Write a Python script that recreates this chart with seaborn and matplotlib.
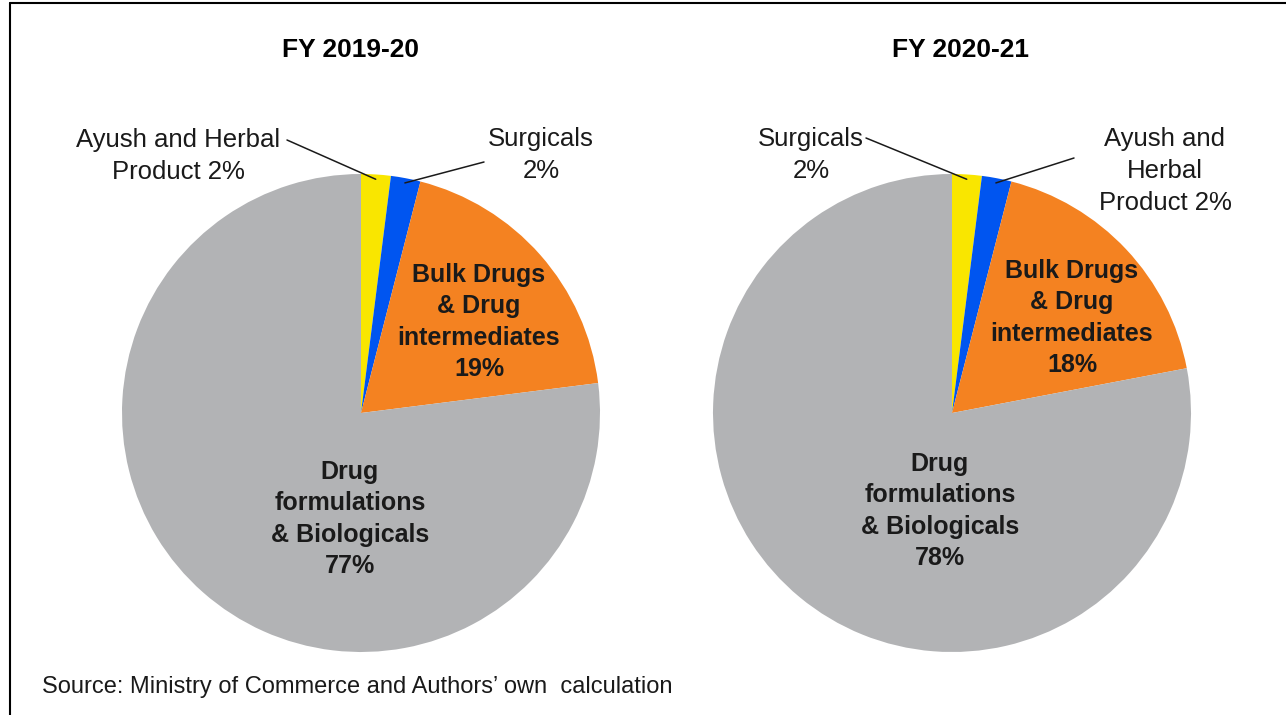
import matplotlib
matplotlib.use("Agg")
import matplotlib.pyplot as plt
from matplotlib.lines import Line2D
import numpy as np
import seaborn as sns

# Export share by segment (per cent), listed clockwise from 12 o'clock
years = ["FY 2019-20", "FY 2020-21"]
segments_1920 = ["Ayush and Herbal\nProduct 2%", "Surgicals\n2%",
                 "Bulk Drugs\n& Drug\nintermediates\n19%",
                 "Drug\nformulations\n& Biologicals\n77%"]
shares_1920 = [2, 2, 19, 77]
segments_2021 = ["Surgicals\n2%", "Ayush and\nHerbal\nProduct 2%",
                 "Bulk Drugs\n& Drug\nintermediates\n18%",
                 "Drug\nformulations\n& Biologicals\n78%"]
shares_2021 = [2, 2, 18, 78]
slice_colors = ["#F9E600", "#0055F0", "#F48221", "#B2B3B5"]
source_note = "Source: Ministry of Commerce and Authors\u2019 own  calculation"

sns.set_theme(style="white")
plt.rcParams["font.family"] = ["Liberation Sans", "DejaVu Sans"]

W, H = 1286, 715
fig = plt.figure(figsize=(W / 100, H / 100), dpi=100)
fig.patch.set_facecolor("white")

R_PX = 239
centres = [(361, 413), (952, 413)]


def make_axes(cx, cy):
    ax = fig.add_axes([(cx - R_PX) / W, (H - cy - R_PX) / H, 2 * R_PX / W, 2 * R_PX / H])
    return ax


def to_data(cx, cy, px, py):
    return (px - cx) / R_PX, (cy - py) / R_PX


def mid_point(shares, i, r=0.98):
    total = sum(shares)
    start = sum(shares[:i]) / total * 360
    mid = np.deg2rad(start + shares[i] / total * 360 / 2)
    return r * np.sin(mid), r * np.cos(mid)


configs = [
    dict(labels=segments_1920, shares=shares_1920, title_x=350,
         outer=[((178, 156), (287, 140)), ((541, 155), (484, 162))],
         bulk=(479, 322), form=(350, 519)),
    dict(labels=segments_2021, shares=shares_2021, title_x=961,
         outer=[((811, 155), (866, 138)), ((1165, 171), (1074, 158))],
         bulk=(1072, 318), form=(940, 511)),
]

for (cx, cy), cfg, year in zip(centres, configs, years):
    ax = make_axes(cx, cy)
    ax.pie(cfg["shares"], colors=slice_colors, startangle=90, counterclock=False,
           radius=1, wedgeprops=dict(linewidth=0))
    ax.set_xlim(-1, 1)
    ax.set_ylim(-1, 1)
    ax.set_aspect("equal")
    ax.axis("off")

    # small slices: labels outside with leader lines
    for i, ((tx, ty), (lx, ly)) in enumerate(cfg["outer"]):
        x, y = to_data(cx, cy, tx, ty)
        ax.text(x, y, cfg["labels"][i], ha="center", va="center", fontsize=18.5,
                color="#1a1a1a", linespacing=1.4, clip_on=False)
        lxd, lyd = to_data(cx, cy, lx, ly)
        wx, wy = mid_point(cfg["shares"], i)
        ax.add_line(Line2D([lxd, wx], [lyd, wy], color="#1a1a1a", lw=1.1, clip_on=False))

    # large slices: bold labels inside
    for i, key in ((2, "bulk"), (3, "form")):
        x, y = to_data(cx, cy, *cfg[key])
        ax.text(x, y, cfg["labels"][i], ha="center", va="center", fontsize=18,
                fontweight="bold", color="#1a1a1a", linespacing=1.4)

    fig.text(cfg["title_x"] / W, 1 - 50 / H, year, ha="center", va="center",
             fontsize=19, fontweight="bold", color="black")

fig.text(42 / W, 1 - 687 / H, source_note, ha="left", va="center",
         fontsize=17, color="#1a1a1a")

# frame lines along the top and left edges
fig.add_artist(Line2D([10 / W, 1], [1 - 3 / H, 1 - 3 / H], color="black", lw=1.5))
fig.add_artist(Line2D([10 / W, 10 / W], [0, 1 - 3 / H], color="black", lw=1.5))

fig.savefig("out.png", dpi=100, facecolor="white")
